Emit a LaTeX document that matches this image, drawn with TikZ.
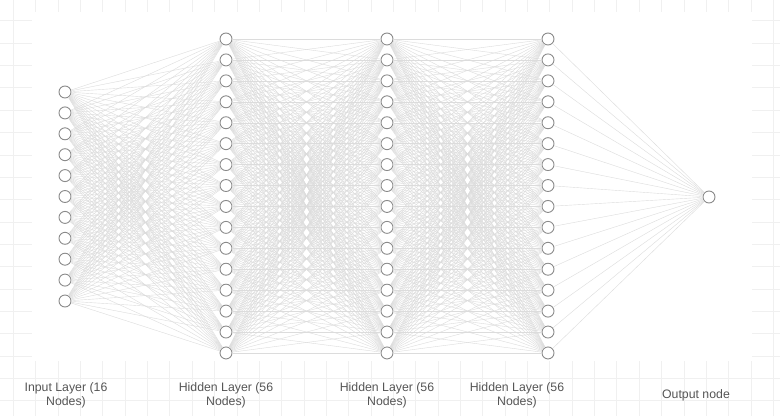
\documentclass[tikz,border=0pt]{standalone}
\usepackage{fontspec}
\setmainfont{Liberation Sans}
\definecolor{gridgray}{HTML}{F0F0F0}
\definecolor{edgegray}{HTML}{DCDCDC}
\definecolor{nodegray}{HTML}{8A8A8A}
\definecolor{labelgray}{HTML}{555555}
\begin{document}
\begin{tikzpicture}[x=1pt,y=-1pt,
  neuron/.style={circle,draw=nodegray,fill=white,line width=0.9pt,minimum size=12pt,inner sep=0pt},
  link/.style={draw=edgegray,line width=0.4pt},
  layerlabel/.style={text=labelgray,font=\fontsize{12.3}{14.4}\selectfont,align=center}]
  \useasboundingbox (0,0) rectangle (780,416);
  % background grid
  \foreach \gx in {0,...,34}
    \draw[gridgray,line width=0.6pt] ({13.3+22.35*\gx},0) -- ({13.3+22.35*\gx},416);
  \foreach \gy in {-1,...,18}
    \draw[gridgray,line width=0.6pt] (0,{20.7+22.35*\gy}) -- (780,{20.7+22.35*\gy});
  \fill[white] (32,12) rectangle (752,361);
  % layers
  \foreach \i in {1,...,11}
    \node[neuron] (in\i) at (65,{92+20.9*(\i-1)}) {};
  \foreach \l/\x in {a/226,b/387,c/548}
    \foreach \i in {1,...,16}
      \node[neuron] (h\l\i) at (\x,{39+20.93*(\i-1)}) {};
  \node[neuron] (out) at (709,197) {};
  % connections
  \foreach \i in {1,...,11}
    \foreach \j in {1,...,16}
      \draw[link] (in\i) -- (ha\j);
  \foreach \i in {1,...,16}
    \foreach \j in {1,...,16} {
      \draw[link] (ha\i) -- (hb\j);
      \draw[link] (hb\i) -- (hc\j);
    }
  \foreach \i in {1,...,16}
    \draw[link] (hc\i) -- (out);
  % labels
  \node[layerlabel] (lblin) at (66,395.5) {Input Layer (16\\Nodes)};
  \node[layerlabel] (lblha) at (226,395.5) {Hidden Layer (56\\Nodes)};
  \node[layerlabel] (lblhb) at (387,395.5) {Hidden Layer (56\\Nodes)};
  \node[layerlabel] (lblhc) at (517,395.5) {Hidden Layer (56\\Nodes)};
  \node[layerlabel] (lblout) at (696,395.5) {Output node};
\end{tikzpicture}
\end{document}
